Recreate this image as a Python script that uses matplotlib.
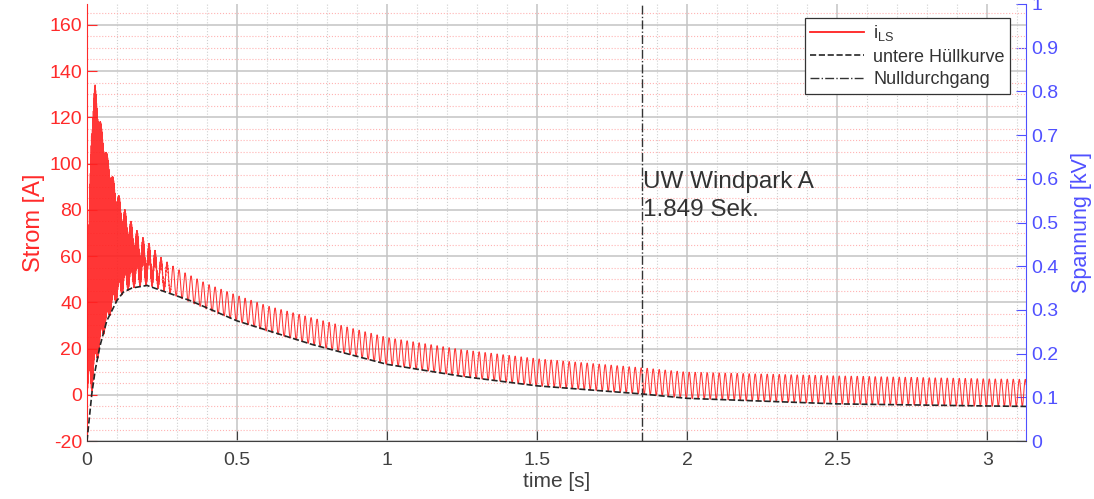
import numpy as np
import matplotlib
matplotlib.use('Agg')
import matplotlib.pyplot as plt
from matplotlib.ticker import MultipleLocator

plt.rcParams['font.family'] = ['Liberation Sans', 'DejaVu Sans']
plt.rcParams['mathtext.fontset'] = 'custom'
plt.rcParams['mathtext.rm'] = 'Liberation Sans'
plt.rcParams['axes.unicode_minus'] = False

# Hüllkurven des Stroms i_LS (Zeit in s, Strom in A)
il_t = [0, 0.005, 0.015, 0.027, 0.047, 0.067, 0.087, 0.107, 0.127, 0.147, 0.167, 0.187, 0.207,
        0.25, 0.3, 0.4, 0.5, 0.6, 0.75, 1.0, 1.25, 1.5, 1.849, 2.0, 2.5, 3.0, 3.13]
il_oben = [0, 60, 128, 134, 117, 104, 94, 86, 80, 75, 71, 68, 65.5,
           59, 54.5, 48, 43, 38.5, 33.3, 24.8, 19.5, 15.6, 11.7, 9.8, 8.2, 6.9, 6.7]
il_unten = [0, 0, 0.3, 10.4, 22, 31, 38, 42, 44.5, 46, 46.8, 47.2, 47.3,
            45.5, 42.5, 37, 32, 27.5, 21.8, 13.2, 8.0, 3.9, 0.4, -1.5, -3.9, -4.8, -5.0]
# halbe Breite des hochfrequenten Anteils am Anfang
il_hf = [0, 25, 55, 58, 44, 34, 25, 18, 13, 10, 7, 4.5, 3,
         1, 0, 0, 0, 0, 0, 0, 0, 0, 0, 0, 0, 0, 0]
f_netz = 50.0
t_spitze = 0.007
f_hf = 1000.0

# untere Hüllkurve (schwarz gestrichelt)
huell_t = [0, 0.016, 0.027, 0.043, 0.066, 0.1, 0.121, 0.15, 0.2, 0.343, 0.5, 0.75,
           1.0, 1.25, 1.5, 1.849, 2.0, 2.5, 3.0, 3.13]
huell_v = [-20, 0.3, 10.4, 21, 32, 40.8, 44.4, 46.2, 47.3, 40.8, 32, 21.8,
           13.2, 8.0, 3.9, 0.4, -1.5, -3.9, -4.8, -5.0]

t_null = 1.849
x_ticks = [0, 0.5, 1, 1.5, 2, 2.5, 3]
x_labels = ['0', '0.5', '1', '1.5', '2', '2.5', '3']
y_ticks = [-20, 0, 20, 40, 60, 80, 100, 120, 140, 160]
y2_ticks = [0, 0.1, 0.2, 0.3, 0.4, 0.5, 0.6, 0.7, 0.8, 0.9, 1]
y2_labels = ['0', '0.1', '0.2', '0.3', '0.4', '0.5', '0.6', '0.7', '0.8', '0.9', '1']

rot = '#ff2a2a'
blau = '#5050ff'
grau = '#404040'

# Verlauf aus den Hüllkurven zusammensetzen
t = np.arange(0, 3.13, 0.0001)
oben = np.interp(t, il_t, il_oben)
unten = np.interp(t, il_t, il_unten)
hf = np.interp(t, il_t, il_hf)
w50 = 0.5 * (1 + np.cos(2 * np.pi * f_netz * (t - t_spitze)))
w_hf = 2 * np.abs(((t * f_hf) % 1) * 2 - 1) - 1
i_ls = (unten + hf) + (oben - unten - 2 * hf) * w50 + hf * w_hf

fig = plt.figure(figsize=(10.94, 4.99), dpi=100)
ax = fig.add_axes([0.0795, 0.116, 0.8585, 0.876])

ax.plot(t, i_ls, color='#ff2020', lw=0.75, alpha=0.9, label=r'$\mathrm{i}_{\mathrm{LS}}$', zorder=3)
ax.plot(huell_t, huell_v, '--', color='#262626', lw=1.2, label='untere Hüllkurve', zorder=4)
ax.axvline(t_null, ls='-.', color='#333333', lw=1.0, label='Nulldurchgang', zorder=4)

ax.text(t_null + 0.005, 86, 'UW Windpark A\n1.849 Sek.', fontsize=17.5, color='#333333',
        va='center', ha='left', linespacing=1.3)

ax.set_xlim(0, 3.13)
ax.set_ylim(-20, 169)
ax.set_xticks(x_ticks)
ax.set_xticklabels(x_labels)
ax.set_yticks(y_ticks)
ax.xaxis.set_minor_locator(MultipleLocator(0.1))
ax.yaxis.set_minor_locator(MultipleLocator(5))

ax.grid(which='major', color='#c4c4c4', lw=1.1)
ax.grid(which='minor', axis='x', color='#d0d0d0', lw=0.8, ls=':')
ax.grid(which='minor', axis='y', color='#ffb3b3', lw=0.8, ls=':')
ax.set_axisbelow(True)

ax.tick_params(axis='x', which='major', direction='in', length=7, colors=grau, labelsize=14, pad=8)
ax.tick_params(axis='y', which='major', direction='in', length=7, colors=rot, labelsize=14)
ax.tick_params(which='minor', length=0)
ax.spines['left'].set_color(rot)
ax.spines['bottom'].set_color(grau)
ax.spines['top'].set_visible(False)
ax.spines['right'].set_visible(False)
ax.set_xlabel('time [s]', fontsize=15, color=grau, labelpad=2)
ax.set_ylabel('Strom [A]', fontsize=17, color=rot, labelpad=3)

ax2 = ax.twinx()
ax2.set_ylim(0, 1)
ax2.set_yticks(y2_ticks)
ax2.set_yticklabels(y2_labels)
ax2.tick_params(axis='y', direction='in', length=7, colors=blau, labelsize=14)
ax2.spines['right'].set_color(blau)
ax2.spines['left'].set_visible(False)
ax2.spines['top'].set_visible(False)
ax2.spines['bottom'].set_visible(False)
ax2.set_ylabel('Spannung [kV]', fontsize=15.5, color=blau, labelpad=9)

leg = ax.legend(loc='upper right', bbox_to_anchor=(0.983, 0.968), borderaxespad=0,
                fontsize=13, handlelength=3.0, labelspacing=0.3, borderpad=0.3,
                handletextpad=0.5, frameon=True, fancybox=False,
                framealpha=1, edgecolor='#333333', labelcolor='#333333')
leg.get_frame().set_linewidth(0.9)
leg.get_lines()[0].set_linewidth(1.3)
leg.get_lines()[0].set_alpha(1)
ax2.set_zorder(0)
ax.set_zorder(1)
ax.patch.set_visible(False)

fig.savefig('out.png', dpi=100)
